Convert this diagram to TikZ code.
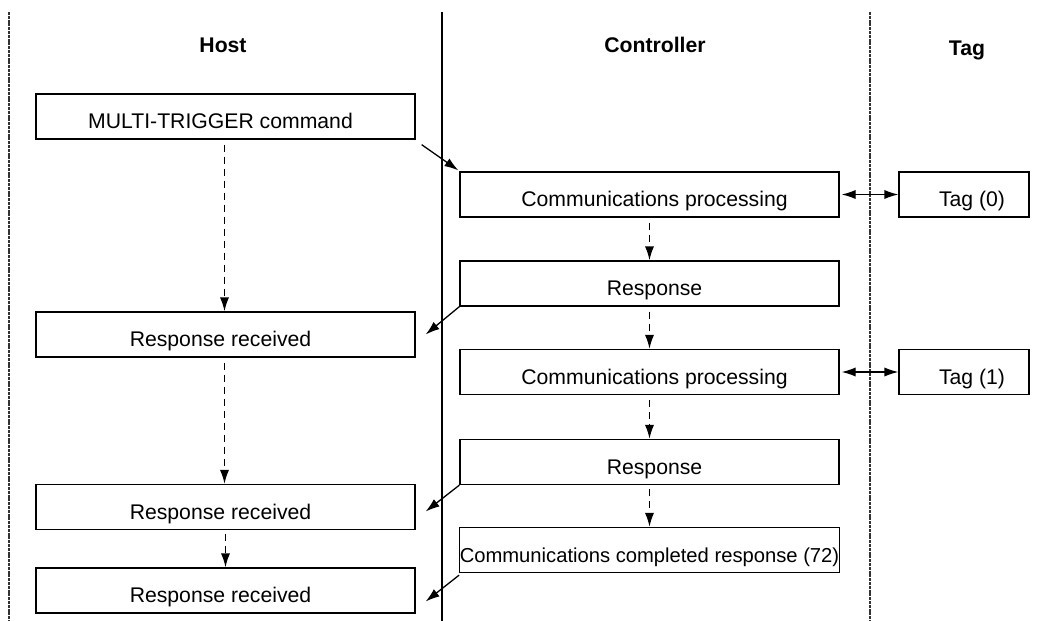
\documentclass[tikz,border=0pt]{standalone}
\usepackage{fontspec}
\setmainfont{Liberation Sans}
\usetikzlibrary{arrows.meta,calc}
\begin{document}
\begin{tikzpicture}[x=0.5pt,y=-0.5pt,
  box/.style={draw=black, line width=0.65pt, minimum width=189.5pt, minimum height=22.5pt, inner sep=0pt, text height=12pt, text depth=0pt, font=\fontsize{10.6}{12}\selectfont},
  hostbox/.style={box, execute at end node={\hspace*{5pt}}},
  ctrlbox/.style={box, execute at begin node={\hspace*{5pt}}},
  tagbox/.style={box, minimum width=65pt, execute at begin node={\hspace*{8pt}}},
  head/.style={font=\fontsize{10.6}{12}\selectfont\bfseries, anchor=base},
  flow/.style={line width=0.65pt, -{Latex[length=7pt,width=4.6pt]}},
  seq/.style={flow, line width=0.8pt, dash pattern=on 3.5pt off 2.5pt},
  msg/.style={flow},
  both/.style={line width=0.65pt, {Latex[length=7pt,width=4.6pt]}-{Latex[length=7pt,width=4.6pt]}},
  lane/.style={line width=0.6pt, black!80, dash pattern=on 1.5pt off 0.4pt},
  sep/.style={line width=0.7pt, black}]
\useasboundingbox (0,0) rectangle (1046,621);

% lane separators
\coordinate (l1t) at (9,12);   \coordinate (l1b) at (9,621);
\coordinate (l2t) at (442,12); \coordinate (l2b) at (442,621);
\coordinate (l3t) at (870,12); \coordinate (l3b) at (870,621);
\draw[lane] (l1t) -- (l1b);
\draw[sep]  (l2t) -- (l2b);
\draw[lane] (l3t) -- (l3b);

% headers
\node[head] (hhost) at (223,53) {Host};
\node[head] (hctrl) at (655,53) {Controller};
\node[head] (htag)  at (967,55) {Tag};

% host boxes
\node[hostbox] (mt)  at (225.5,116.5) {MULTI-TRIGGER command};
\node[hostbox] (rr1) at (225.5,334.5) {Response received};
\node[hostbox] (rr2) at (225.5,507)   {Response received};
\node[hostbox] (rr3) at (225.5,590.5) {Response received};

% controller boxes
\node[ctrlbox] (cp1) at (649.5,194.5) {Communications processing};
\node[ctrlbox] (r1)  at (649.5,283.5) {Response};
\node[ctrlbox] (cp2) at (649.5,372)   {Communications processing};
\node[ctrlbox] (r2)  at (649.5,462)   {Response};
\node[box, font=\fontsize{10.1}{12}\selectfont] (cc) at (649.5,550) {Communications completed response (72)};

% tag boxes
\node[tagbox] (tag0) at (964,194.5) {Tag (0)};
\node[tagbox] (tag1) at (964,372)   {Tag (1)};

% sequence (dashed) arrows
\draw[seq] ($(mt.south)+(-1,5)$)  -- ($(rr1.north)+(-1,0)$);
\draw[seq] ($(rr1.south)+(-1,5)$) -- ($(rr2.north)+(-1,0)$);
\draw[seq] ($(rr2.south)+(0,4)$)  -- (rr3.north);
\draw[seq] ($(cp1.south)+(0,5)$)  -- (r1.north);
\draw[seq] ($(r1.south)+(0,5)$)   -- (cp2.north);
\draw[seq] ($(cp2.south)+(0,5)$)  -- (r2.north);
\draw[seq] ($(r2.south)+(0,4)$)   -- (cc.north);

% messages between host and controller
\draw[msg] ($(mt.south east)+(6,5)$) -- ($(cp1.north west)+(-1,-1)$);
\draw[msg] (r1.south west) -- ($(rr1.east)+(10,0)$);
\draw[msg] (r2.south west) -- ($(rr2.east)+(10,4.5)$);
\draw[msg] ($(cc.south west)+(0,2)$) -- ($(rr3.east)+(10,11)$);

% controller <-> tag
\draw[both] ($(cp1.east)+(2,0)$) -- (tag0.west);
\draw[both] ($(cp2.east)+(2,0)$) -- (tag1.west);
\end{tikzpicture}
\end{document}
